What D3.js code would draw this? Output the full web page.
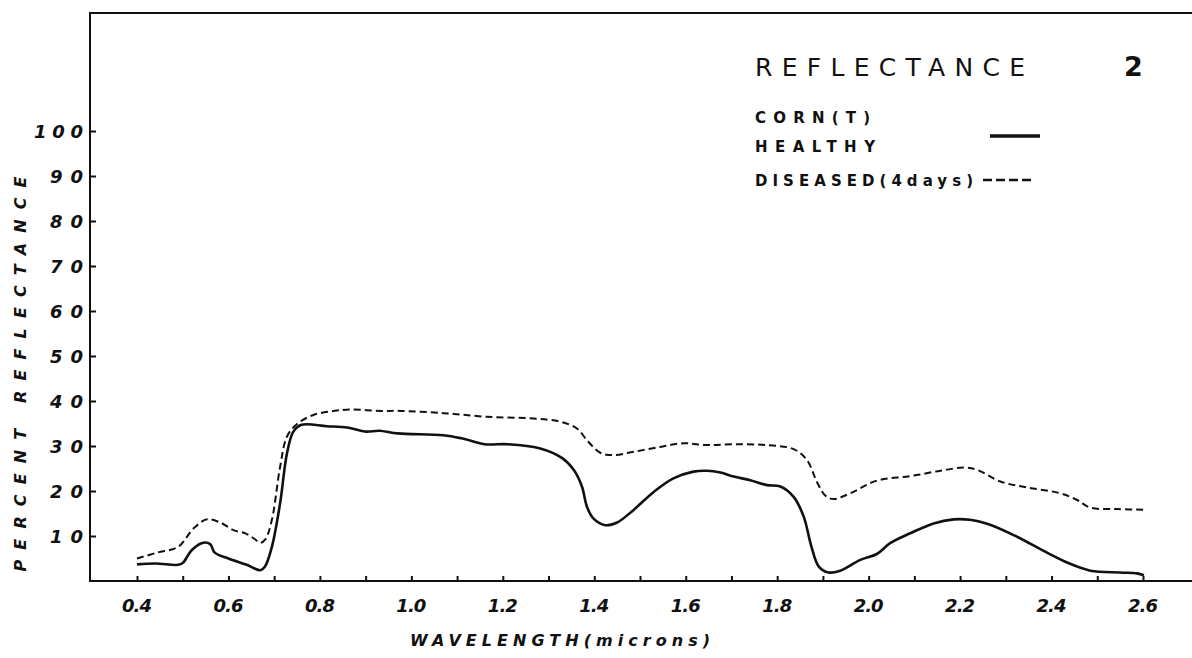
<!DOCTYPE html>
<html>
<head>
<meta charset="utf-8">
<script src="https://cdn.jsdelivr.net/npm/d3@7"></script>
<style>
  body { margin: 0; background: #fff; }
  svg { display: block; }
  text { font-family: "DejaVu Sans", Lato, sans-serif; fill: #111; }
  .tick-label { font-weight: bold; font-style: italic; font-size: 18px; }
  .axis-title { font-weight: bold; font-style: italic; font-size: 16px; }
  .legend-text { font-weight: bold; font-size: 15px; }
</style>
</head>
<body>
<div id="chart"></div>
<script>
/**
 * DATA
 **/
const healthyWave = [0.40, 0.44, 0.49, 0.50, 0.52, 0.545, 0.56, 0.57, 0.60, 0.64, 0.67, 0.68, 0.695, 0.713, 0.728, 0.742, 0.76,
  0.815, 0.86, 0.90, 0.93, 0.97, 1.07, 1.11, 1.16, 1.21, 1.28, 1.33, 1.355, 1.373, 1.384, 1.398, 1.424, 1.45, 1.486, 1.53,
  1.573, 1.617, 1.646, 1.676, 1.705, 1.741, 1.778, 1.807, 1.836, 1.858, 1.875, 1.891, 1.912, 1.938, 1.982, 2.018, 2.047,
  2.091, 2.142, 2.186, 2.222, 2.259, 2.317, 2.39, 2.434, 2.485, 2.55, 2.587, 2.602];
const healthyRefl = [3.7, 3.9, 3.6, 4.0, 6.9, 8.5, 8.2, 6.3, 5.0, 3.6, 2.4, 3.2, 7.6, 17.3, 28.4, 33.2, 34.7,
  34.4, 34.1, 33.2, 33.4, 32.8, 32.4, 31.7, 30.4, 30.4, 29.5, 27.3, 24.7, 21.0, 16.5, 13.9, 12.4, 13.0, 15.8, 19.8,
  22.8, 24.3, 24.5, 24.1, 23.2, 22.4, 21.3, 21.0, 18.7, 14.3, 7.6, 3.2, 1.9, 2.3, 4.7, 6.0, 8.4,
  10.6, 12.8, 13.7, 13.6, 12.7, 10.2, 6.3, 4.1, 2.3, 1.9, 1.7, 1.3];

const diseasedWave = [0.40, 0.444, 0.49, 0.524, 0.553, 0.582, 0.611, 0.637, 0.655, 0.67, 0.681, 0.695, 0.713, 0.728,
  0.75, 0.786, 0.83, 0.866, 0.932, 0.976, 1.07, 1.165, 1.267, 1.326, 1.362, 1.384, 1.413, 1.442, 1.486, 1.544, 1.595,
  1.646, 1.705, 1.778, 1.836, 1.865, 1.887, 1.905, 1.923, 1.96, 2.018, 2.091, 2.157, 2.208, 2.237, 2.288, 2.346, 2.419,
  2.456, 2.485, 2.543, 2.608];
const diseasedRefl = [5.0, 6.3, 7.6, 11.7, 13.7, 13.0, 11.3, 10.6, 9.5, 8.5, 9.3, 13.6, 25.4, 32.1,
  34.9, 36.9, 37.8, 38.1, 37.8, 37.8, 37.3, 36.5, 36.1, 35.4, 33.9, 31.3, 28.5, 28.0, 28.7, 29.8, 30.6,
  30.2, 30.4, 30.2, 29.3, 26.9, 22.0, 19.0, 18.2, 19.5, 22.3, 23.3, 24.5, 25.2, 24.7, 22.1, 20.8, 19.5,
  18.0, 16.3, 16.0, 15.8];

const xTicks = d3.range(4, 27).map(d => d / 10);          // minor ticks every 0.1
const xTickLabels = ["0.4", "0.6", "0.8", "1.0", "1.2", "1.4", "1.6", "1.8", "2.0", "2.2", "2.4", "2.6"];
const yTicks = [10, 20, 30, 40, 50, 60, 70, 80, 90, 100];

/**
 * LAYOUT
 **/
const width = 1192, height = 658;
const frame = { left: 90, top: 13, right: 1192, bottom: 581 };

const svg = d3.select("#chart").append("svg")
  .attr("width", width)
  .attr("height", height);

const xscale = d3.scaleLinear().domain([0.4, 2.6]).range([137, 1143]);
const yscale = d3.scaleLinear().domain([0, 100]).range([frame.bottom, 131]);

// frame (top + left + bottom)
svg.append("path")
  .attr("d", `M${frame.right},${frame.top}H${frame.left}V${frame.bottom}H${frame.right}`)
  .attr("fill", "none")
  .attr("stroke", "#111")
  .attr("stroke-width", 2);

// x axis ticks pointing up
const xaxis = d3.axisBottom(xscale).tickValues(xTicks).tickSize(-5).tickFormat("");
svg.append("g")
  .attr("class", "axis x_axis")
  .attr("transform", `translate(0, ${frame.bottom})`)
  .call(xaxis)
  .call(g => g.select(".domain").remove())
  .call(g => g.selectAll(".tick line").attr("stroke", "#111").attr("stroke-width", 2));

svg.append("g")
  .selectAll("text")
  .data(xTickLabels)
  .join("text")
  .attr("class", "tick-label")
  .attr("x", d => xscale(+d))
  .attr("y", 612)
  .attr("text-anchor", "middle")
  .attr("textLength", 30)
  .attr("lengthAdjust", "spacing")
  .text(d => d);

// y axis ticks pointing right
const yaxis = d3.axisLeft(yscale).tickValues(yTicks).tickSize(-6).tickFormat("");
svg.append("g")
  .attr("class", "axis y_axis")
  .attr("transform", `translate(${frame.left}, 0)`)
  .call(yaxis)
  .call(g => g.select(".domain").remove())
  .call(g => g.selectAll(".tick line").attr("stroke", "#111").attr("stroke-width", 2));

svg.append("g")
  .selectAll("text")
  .data(yTicks)
  .join("text")
  .attr("class", "tick-label")
  .attr("x", 83)
  .attr("y", d => yscale(d) + 7)
  .attr("text-anchor", "end")
  .attr("textLength", d => d === 100 ? 49 : 33)
  .attr("lengthAdjust", "spacing")
  .text(d => d);

// axis titles
svg.append("text")
  .attr("class", "axis-title")
  .attr("transform", `translate(26, 374) rotate(-90)`)
  .attr("text-anchor", "middle")
  .attr("textLength", 395)
  .attr("lengthAdjust", "spacing")
  .text("PERCENT REFLECTANCE");

svg.append("text")
  .attr("class", "axis-title")
  .attr("x", 560)
  .attr("y", 646)
  .attr("text-anchor", "middle")
  .attr("textLength", 300)
  .attr("lengthAdjust", "spacing")
  .text("WAVELENGTH(microns)");

// curves
const lineFunc = d3.line()
  .curve(d3.curveCatmullRom.alpha(0.5))
  .x(d => xscale(d[0]))
  .y(d => yscale(d[1]));

const healthy = d3.zip(healthyWave, healthyRefl);
const diseased = d3.zip(diseasedWave, diseasedRefl);

svg.append("path")
  .datum(diseased)
  .attr("class", "trend diseased")
  .attr("fill", "none")
  .attr("stroke", "#111")
  .attr("stroke-width", 2)
  .attr("stroke-dasharray", "7,4")
  .attr("d", lineFunc);

svg.append("path")
  .datum(healthy)
  .attr("class", "trend healthy")
  .attr("fill", "none")
  .attr("stroke", "#111")
  .attr("stroke-width", 2.6)
  .attr("stroke-linejoin", "round")
  .attr("d", lineFunc);

// title + legend
svg.append("text")
  .attr("x", 755).attr("y", 76)
  .attr("font-size", 25)
  .attr("textLength", 270).attr("lengthAdjust", "spacing")
  .text("REFLECTANCE");

svg.append("text")
  .attr("x", 1124).attr("y", 76)
  .attr("font-size", 27).attr("font-weight", "bold")
  .text("2");

svg.append("text").attr("class", "legend-text")
  .attr("x", 755).attr("y", 123)
  .attr("textLength", 115).attr("lengthAdjust", "spacing")
  .text("CORN(T)");

svg.append("text").attr("class", "legend-text")
  .attr("x", 755).attr("y", 152)
  .attr("textLength", 120).attr("lengthAdjust", "spacing")
  .text("HEALTHY");

svg.append("text").attr("class", "legend-text")
  .attr("x", 755).attr("y", 186)
  .attr("textLength", 218).attr("lengthAdjust", "spacing")
  .text("DISEASED(4days)");

svg.append("line")
  .attr("x1", 990).attr("x2", 1040).attr("y1", 136).attr("y2", 136)
  .attr("stroke", "#111").attr("stroke-width", 3.5);

svg.append("line")
  .attr("x1", 983).attr("x2", 1033).attr("y1", 180).attr("y2", 180)
  .attr("stroke", "#111").attr("stroke-width", 2.5)
  .attr("stroke-dasharray", "9,4");
</script>
</body>
</html>
